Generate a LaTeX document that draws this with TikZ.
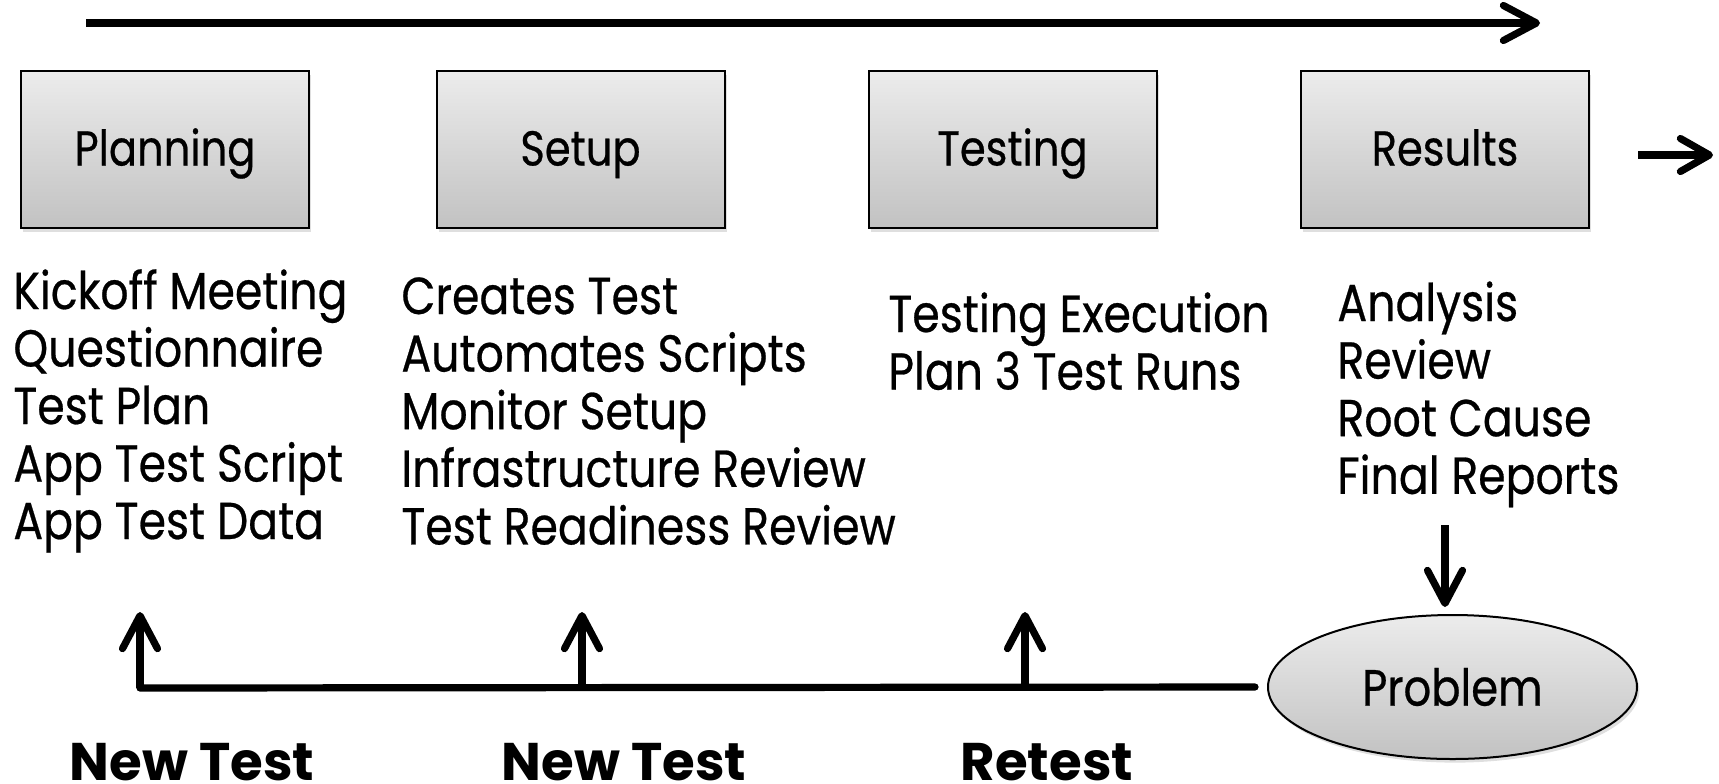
\documentclass[tikz,border=0pt]{standalone}
\usepackage{fontspec}
\setmainfont{Poppins}
\newfontfamily\nf[FakeStretch=0.85,FakeBold=0.5]{Poppins}
\usetikzlibrary{arrows.meta,shapes.geometric,shadows}
\begin{document}
\begin{tikzpicture}[x=0.5pt,y=-0.5pt,
  stage/.style={draw=black, line width=1pt, top color=gray!15, bottom color=gray!48,
    minimum width=144pt, minimum height=78.5pt, inner sep=0pt,
    drop shadow={shadow xshift=1.2pt, shadow yshift=-1.8pt, opacity=0.25},
    font=\nf\fontsize{24.5}{24.5}\selectfont, text height=16pt, text depth=0pt},
  item/.style={anchor=base west, inner sep=0pt, font=\nf\fontsize{26}{26}\selectfont},
  lbl/.style={anchor=base, inner sep=0pt, font=\fontsize{26.5}{26.5}\selectfont\bfseries},
  bigarrow/.style={line width=3.6pt, -{Straight Barb[length=16.5pt,width=17.5pt,round]}},
  flow/.style={line width=3.6pt, line cap=round}
]
\useasboundingbox (0,0) rectangle (1719,783);
% timeline
\coordinate (ts) at (86,23);
\coordinate (te) at (1540,23);
\draw[bigarrow] (ts) -- (te);
% stages
\node[stage] (plan) at (165,149.5) {Planning};
\node[stage] (setup) at (580.5,149.5) {Setup};
\node[stage] (test) at (1012.5,149.5) {Testing};
\node[stage] (res) at (1445,149.5) {Results};
\coordinate (ns) at (1638,155);
\coordinate (ne) at (1713,155);
\draw[line width=3.6pt, -{Straight Barb[length=14.5pt,width=16.5pt,round]}] (ns) -- (ne);
% lists
\foreach \t [count=\i from 0] in {Kickoff Meeting,Questionnaire,Test Plan,App Test Script,App Test Data}
  \node[item] (p\i) at (13,309+57.5*\i) {\t};
\foreach \t [count=\i from 0] in {Creates Test,Automates Scripts,Monitor Setup,Infrastructure Review,Test Readiness Review}
  \node[item] (s\i) at (401,314+57.6*\i) {\t};
\foreach \t [count=\i from 0] in {Testing Execution,Plan 3 Test Runs}
  \node[item] (x\i) at (888,332+57.6*\i) {\t};
\foreach \t [count=\i from 0] in {Analysis,Review,Root Cause,Final Reports}
  \node[item] (r\i) at (1337,321+57.6*\i) {\t};
% problem
\node[ellipse, draw=black, line width=1pt, top color=gray!15, bottom color=gray!48,
  minimum width=184.5pt, minimum height=72pt, inner sep=0pt,
  drop shadow={shadow xshift=1.2pt, shadow yshift=-1.8pt, opacity=0.25},
  font=\nf\fontsize{25.5}{25.5}\selectfont] (prob) at (1452.5,687) {Problem};
\coordinate (dtop) at (1445,525);
\draw[bigarrow] (dtop) -- ([yshift=3.5pt]prob.north -| dtop);
% feedback
\coordinate (c1) at (140,688);
\coordinate (t1) at (140,612);
\coordinate (c2) at (582,688);
\coordinate (t2) at (582,612);
\coordinate (c3) at (1025,688);
\coordinate (t3) at (1025,612);
\draw[flow] (prob.west) ++(-6pt,0) -- (c1);
\draw[bigarrow] (c1) -- (t1);
\draw[bigarrow] (c2) -- (t2);
\draw[bigarrow] (c3) -- (t3);
% labels
\node[lbl] (l1) at (192,780) {New Test};
\node[lbl] (l2) at (624,780) {New Test};
\node[lbl] (l3) at (1047,780) {Retest};
\end{tikzpicture}
\end{document}
